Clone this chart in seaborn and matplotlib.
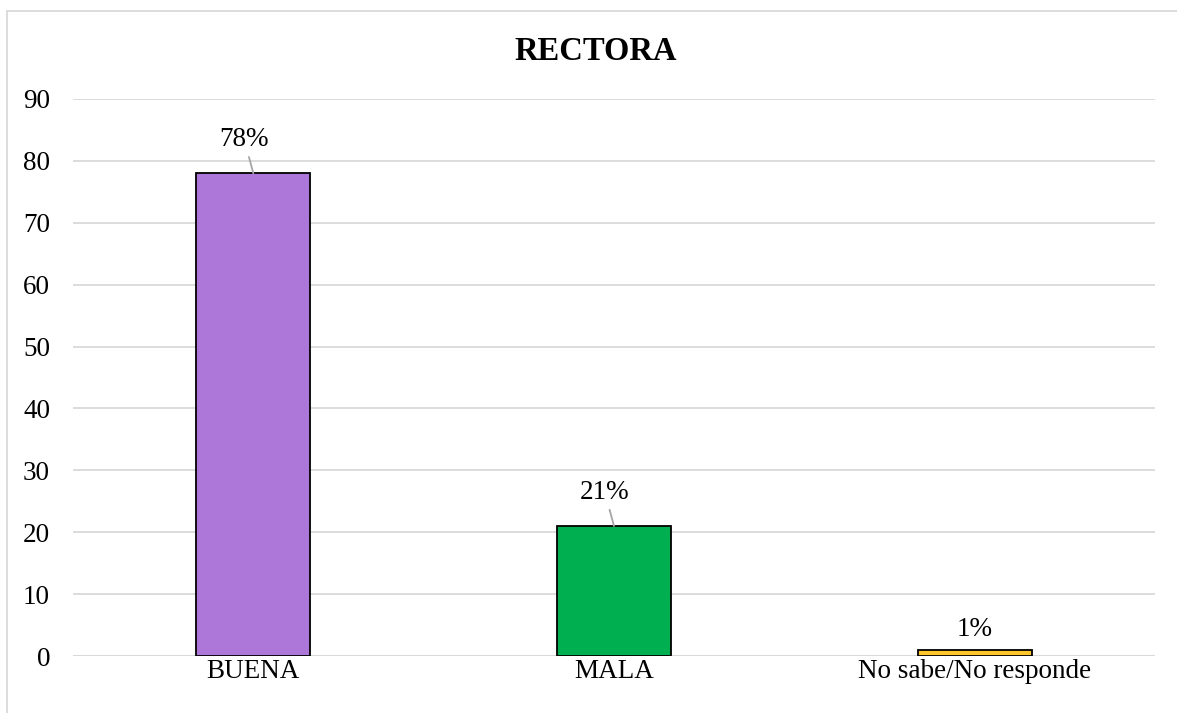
import matplotlib
matplotlib.use("Agg")
import matplotlib.pyplot as plt
import matplotlib.lines as mlines
import seaborn as sns
import pandas as pd

categories = ["BUENA", "MALA", "No sabe/No responde"]
values = [78, 21, 1]
labels = ["78%", "21%", "1%"]
colors = ["#AD77D9", "#00B050", "#FFC72C"]
yticks = [0, 10, 20, 30, 40, 50, 60, 70, 80, 90]

sns.set_theme(style="white")
plt.rcParams["font.family"] = ["Liberation Serif", "DejaVu Serif"]

df = pd.DataFrame({"cat": categories, "val": values})

fig = plt.figure(figsize=(11.77, 7.13), dpi=100)
ax = fig.add_axes([73 / 1177, 1 - 656 / 713, (1155 - 73) / 1177, (656 - 99) / 713])

sns.barplot(data=df, x="cat", y="val", hue="cat", palette=colors, legend=False,
            saturation=1, width=0.316, edgecolor="black", linewidth=1.3, ax=ax, zorder=3)

ax.set_xlim(-0.5, 2.5)
ax.set_ylim(0, 90)
ax.set_yticks(yticks)
ax.yaxis.grid(True, color="#D9D9D9", linewidth=1.3, zorder=0)
ax.set_axisbelow(True)
for s in ax.spines.values():
    s.set_visible(False)
ax.axhline(0, color="#D9D9D9", linewidth=1.3, zorder=1)
ax.set_xlabel("")
ax.set_ylabel("")
ax.tick_params(axis="y", labelsize=19.5, pad=16.5, length=0, colors="black")
ax.tick_params(axis="x", labelsize=19.5, pad=2, length=0, colors="black")

# data labels with leader lines
for i, (v, lab) in enumerate(zip(values, labels)):
    if v > 5:
        ax.annotate(lab, xy=(i, v), xytext=(i - 0.025, v + 5.4), ha="center", va="center",
                    fontsize=19.5, color="black",
                    arrowprops=dict(arrowstyle="-", color="#A6A6A6", lw=1.3,
                                    shrinkA=1, shrinkB=0))
    else:
        ax.text(i, v + 3.3, lab, ha="center", va="center", fontsize=19.5, color="black")

fig.text(0.506, 1 - 52 / 713, "RECTORA", ha="center", va="center",
         fontsize=23.5, fontweight="bold", color="black")

# chart area border (top and left edges visible in the crop)
border_y = 1 - 10.5 / 713
border_x = 6.5 / 1177
fig.add_artist(mlines.Line2D([border_x, 1.0], [border_y, border_y], transform=fig.transFigure,
                             color="#D9D9D9", linewidth=1.3))
fig.add_artist(mlines.Line2D([border_x, border_x], [0, border_y], transform=fig.transFigure,
                             color="#D9D9D9", linewidth=1.3))

fig.savefig("out.png", dpi=100)
